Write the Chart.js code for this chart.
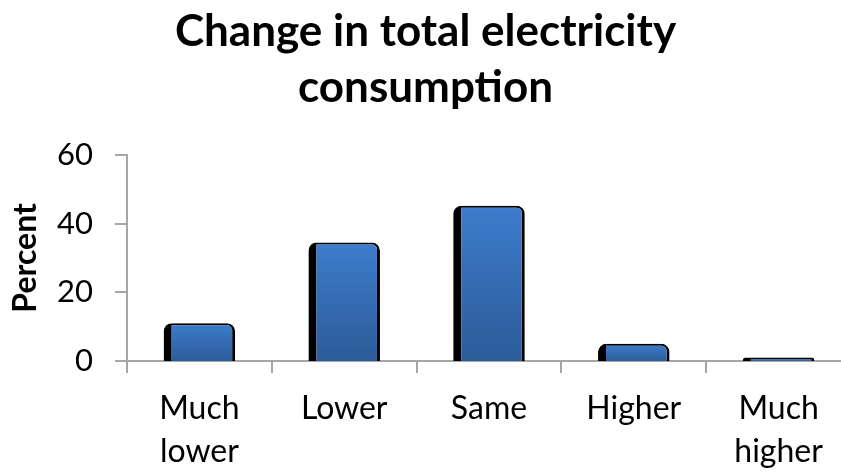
<!DOCTYPE html>
<html>
<head>
<meta charset="utf-8">
<script src="https://cdn.jsdelivr.net/npm/chart.js@4"></script>
<style>
  html, body { margin: 0; padding: 0; background: #fff; overflow: hidden; }
  #wrap { width: 866px; height: 472px; }
</style>
</head>
<body>
<div id="wrap"><canvas id="chart" width="866" height="472"></canvas></div>
<script>
const categories = [['Much', 'lower'], 'Lower', 'Same', 'Higher', ['Much', 'higher']];
const percentValues = [11, 34.5, 45.2, 5, 1];
const yTicks = [0, 20, 40, 60];
const titleLines = ['Change in total electricity', 'consumption'];

const FONT = 'Lato, "Open Sans", sans-serif';
const AXIS_GRAY = '#a6a6a6';

function barGradient(ctx) {
  const chart = ctx.chart;
  if (!chart.chartArea || ctx.type !== 'data') return '#3a76c4';
  const y = chart.scales.y;
  const top = y.getPixelForValue(ctx.raw);
  const bottom = y.getPixelForValue(0);
  const g = chart.ctx.createLinearGradient(0, top, 0, bottom + 1);
  g.addColorStop(0, '#3d7ccc');
  g.addColorStop(1, '#2c5b98');
  return g;
}

new Chart(document.getElementById('chart').getContext('2d'), {
  type: 'bar',
  data: {
    labels: categories,
    datasets: [{
      label: 'Percent',
      data: percentValues,
      backgroundColor: barGradient,
      borderColor: '#000',
      borderWidth: { left: 8, right: 3, top: 2, bottom: 2 },
      borderSkipped: false,
      borderRadius: { topLeft: 8, topRight: 8, bottomLeft: 0, bottomRight: 0 },
      base: -0.6,
      barPercentage: 0.494,
      categoryPercentage: 1
    }]
  },
  options: {
    responsive: false,
    devicePixelRatio: 1,
    animation: false,
    layout: { padding: { left: 0, right: 15, top: 0, bottom: 0 } },
    plugins: {
      legend: { display: false },
      tooltip: { enabled: false },
      title: {
        display: true,
        text: titleLines,
        color: '#000',
        font: { family: FONT, size: 44, weight: 'bold', lineHeight: 1.27 },
        padding: { top: 4, bottom: 39 }
      }
    },
    scales: {
      x: {
        grid: {
          drawOnChartArea: false,
          drawTicks: true,
          tickLength: 12,
          color: AXIS_GRAY,
          lineWidth: 2
        },
        border: { display: true, color: AXIS_GRAY, width: 2 },
        ticks: {
          color: '#000',
          font: { family: FONT, size: 32, lineHeight: 1.32 },
          padding: 15,
          maxRotation: 0,
          autoSkip: false
        },
        afterFit: s => { s.height = 111; }
      },
      y: {
        min: 0,
        max: 60,
        afterBuildTicks: s => { s.ticks = yTicks.map(v => ({ value: v })); },
        grid: {
          drawOnChartArea: false,
          drawTicks: true,
          tickLength: 12,
          color: AXIS_GRAY,
          lineWidth: 2
        },
        border: { display: true, color: AXIS_GRAY, width: 2 },
        ticks: {
          color: '#000',
          font: { family: FONT, size: 31 },
          padding: 22
        },
        title: {
          display: true,
          text: 'Percent',
          color: '#000',
          font: { family: FONT, size: 32, weight: 'bold', lineHeight: 1.2 },
          padding: { top: 6, bottom: 0 }
        },
        afterFit: s => { s.width = 127; }
      }
    }
  }
});
</script>
</body>
</html>
